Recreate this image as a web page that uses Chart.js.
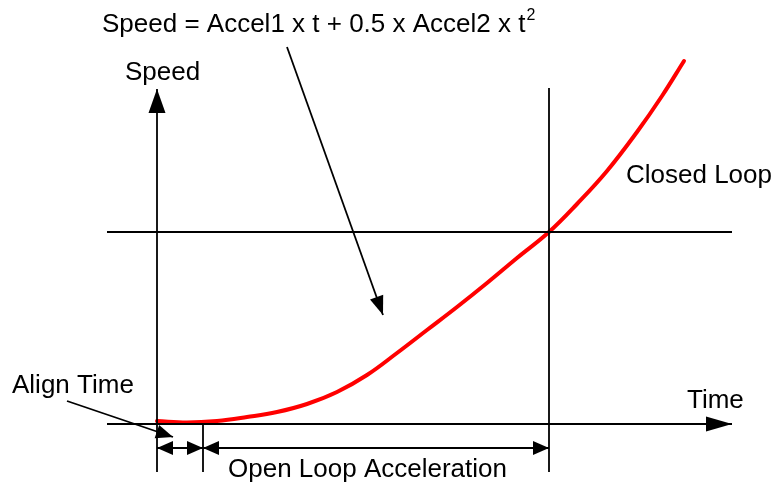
<!DOCTYPE html>
<html>
<head>
<meta charset="utf-8">
<script src="https://cdn.jsdelivr.net/npm/chart.js@4/dist/chart.umd.min.js"></script>
<style>
html,body{margin:0;padding:0;background:#fff;}
#wrap{width:777px;height:486px;}
</style>
</head>
<body>
<div id="wrap"><canvas id="c" width="777" height="486"></canvas></div>
<script>
// Diagram units: time (x) and speed (y); origin at the axes crossing.
const curveTime  = [0, 3, 6, 9, 12, 15, 18, 21, 24, 27, 30, 33, 36, 39.2, 42, 45, 48, 50.5, 52.7];
const curveSpeed = [0.3, 0.15, 0.3, 0.7, 1.2, 2.0, 3.2, 4.9, 7.1, 9.4, 11.7, 14.1, 16.6, 19.2, 22.0, 25.3, 29.2, 32.8, 36.3];

const alignEnd = 4.6;         // end of align time
const closedLoopStart = 39.2; // start of closed loop
const thresholdSpeed = 19.2;  // switch-over speed

// line segments [x1, y1, x2, y2]
const axisX      = [-5, 0, 57.5, 0];
const axisY      = [0, -4.8, 0, 33.5];
const levelLine  = [-5, thresholdSpeed, 57.5, thresholdSpeed];
const closedLine = [closedLoopStart, -4.8, closedLoopStart, 33.6];
const alignTick  = [alignEnd, 0, alignEnd, -4.8];
const formulaArrow = [13.0, 37.7, 22.6, 10.9];
const alignArrow   = [-9.0, 2.3, 1.6, -1.3];
const dimAlign     = [0, -2.4, alignEnd, -2.4];
const dimOpen      = [alignEnd, -2.4, closedLoopStart, -2.4];

// labels: [text, x, y]
const labels = [
  ["Speed = Accel1 x t + 0.5 x Accel2 x t", -5.5, 39.2],
  ["Speed", -3.2, 34.4],
  ["Closed Loop", 46.9, 24.1],
  ["Time", 53.0, 1.6],
  ["Align Time", -14.5, 3.1],
  ["Open Loop Acceleration", 7.1, -5.3]
];
const superscript = ["2", 1];

function seg(s){ return {
  data:[{x:s[0],y:s[1]},{x:s[2],y:s[3]}],
  borderColor:'#000', borderWidth:1.8, pointRadius:0, showLine:true, fill:false
};}

const datasets = [
  seg(axisX), seg(axisY), seg(levelLine), seg(closedLine), seg(alignTick),
  seg(formulaArrow), seg(alignArrow), seg(dimAlign), seg(dimOpen),
  {
    data: curveTime.map((t,i)=>({x:t,y:curveSpeed[i]})),
    borderColor:'#ff0000', borderWidth:4, pointRadius:0, showLine:true,
    tension:0.4, fill:false, borderCapStyle:'round'
  }
];

// arrowheads: [segment, end ('end' or 'start'), length, halfWidth]
const heads = [
  [axisY,'end',24,8.5],
  [axisX,'end',26,7.5],
  [formulaArrow,'end',19,7],
  [alignArrow,'end',17,7],
  [dimAlign,'start',16,7],[dimAlign,'end',16,7],
  [dimOpen,'start',16,7],[dimOpen,'end',16,7]
];

const FONT = '26px "Liberation Sans", Arial, sans-serif';

const deco = {
  id:'deco',
  afterDatasetsDraw(chart){
    const ctx = chart.ctx, sx = chart.scales.x, sy = chart.scales.y;
    const px = v=>sx.getPixelForValue(v), py = v=>sy.getPixelForValue(v);
    ctx.save();
    ctx.fillStyle = '#000';
    heads.forEach(h=>{
      const s=h[0];
      let tx,ty,fx,fy;
      if(h[1]==='end'){tx=px(s[2]);ty=py(s[3]);fx=px(s[0]);fy=py(s[1]);}
      else {tx=px(s[0]);ty=py(s[1]);fx=px(s[2]);fy=py(s[3]);}
      const dx=tx-fx, dy=ty-fy, L=Math.hypot(dx,dy), ux=dx/L, uy=dy/L;
      const bx=tx-ux*h[2], by=ty-uy*h[2];
      ctx.beginPath();
      ctx.moveTo(tx,ty);
      ctx.lineTo(bx-uy*h[3], by+ux*h[3]);
      ctx.lineTo(bx+uy*h[3], by-ux*h[3]);
      ctx.closePath();
      ctx.fill();
    });
    ctx.font = FONT;
    ctx.textBaseline = 'alphabetic';
    ctx.textAlign = 'left';
    labels.forEach(l=>{ ctx.fillText(l[0], px(l[1]), py(l[2])); });
    const w = ctx.measureText(labels[0][0]).width;
    ctx.font = '16px "Liberation Sans", Arial, sans-serif';
    ctx.fillText(superscript[0], px(labels[0][1]) + w + 1, py(labels[0][2]) - 12);
    ctx.restore();
  }
};

new Chart(document.getElementById('c'), {
  type:'scatter',
  data:{datasets},
  options:{
    responsive:false, animation:false, maintainAspectRatio:false,
    layout:{padding:0},
    plugins:{legend:{display:false}, tooltip:{enabled:false}},
    scales:{
      x:{type:'linear', min:-15.7, max:62.0, display:false},
      y:{type:'linear', min:-6.2, max:42.4, display:false}
    }
  },
  plugins:[deco]
});
</script>
</body>
</html>
